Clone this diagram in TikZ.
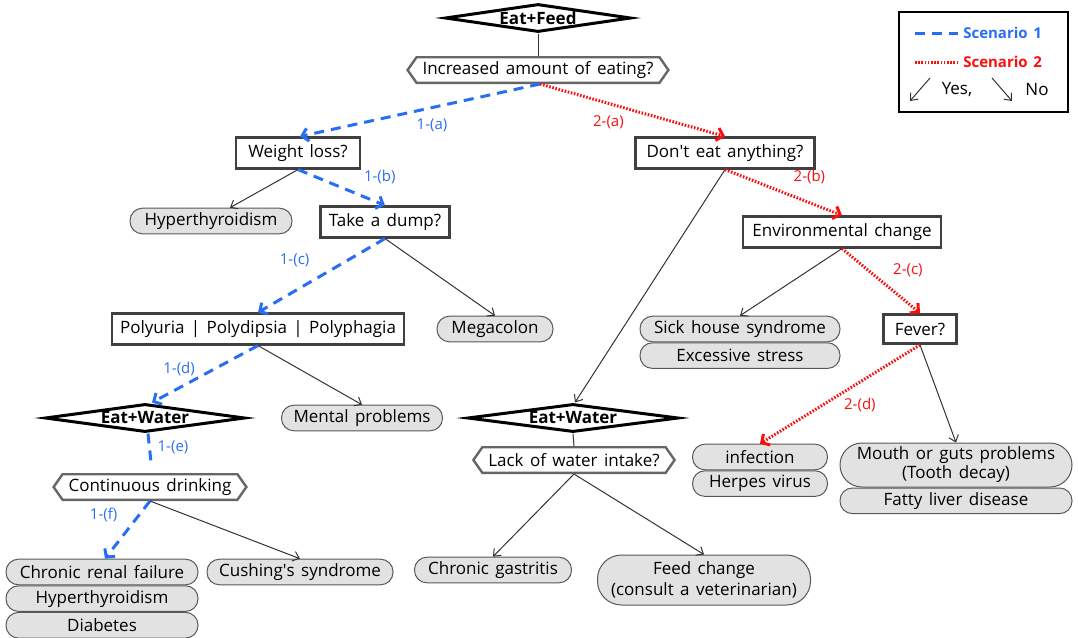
\documentclass[tikz,border=0pt]{standalone}
\usepackage{fontspec}
\setmainfont{Open Sans}[WordSpace=1.45]
\usetikzlibrary{arrows.meta,calc,positioning,shapes.geometric,shapes.symbols}
\definecolor{scenBlue}{RGB}{40,110,245}
\definecolor{scenRed}{RGB}{250,15,15}
\definecolor{pillFill}{RGB}{226,226,226}
\colorlet{boxStroke}{black!75}
\colorlet{hexStroke}{black!60}
\colorlet{wireColor}{black!80}
\newcommand{\PillH}{12.8pt}
\newcommand{\PillR}{6.2pt}
\newcommand{\MainFont}{\fontsize{8.5}{10}\selectfont}
\newcommand{\TagFont}{\fontsize{7.5}{9}\selectfont}

\begin{document}
\begin{tikzpicture}[
  x=0.5pt, y=-0.5pt,
  every node/.style={font=\MainFont},
  gate/.style={diamond,draw=black,line width=1.5pt,fill=white,aspect=5.6,inner sep=0pt,
    minimum height=14pt,font=\bfseries\MainFont},
  hexbox/.style={signal,signal to=west and east,signal pointer angle=110,draw=hexStroke,
    line width=1.2pt,fill=white,minimum height=12.8pt,inner xsep=3pt,inner ysep=1pt},
  qbox/.style={rectangle,draw=boxStroke,line width=1.4pt,fill=white,minimum height=14pt,inner xsep=4pt},
  pill/.style={rectangle,rounded corners=\PillR,draw=black!65,line width=0.5pt,fill=pillFill,
    minimum height=\PillH,inner xsep=3pt,inner ysep=1pt},
  link/.style={draw=wireColor,line width=0.5pt},
  wire/.style={link,-{Straight Barb[length=3pt,width=5pt]}},
  scenA/.style={draw=scenBlue,line width=1.5pt,dash pattern=on 5pt off 3.5pt,
    -{Straight Barb[length=3pt,width=6.5pt]}},
  scenB/.style={draw=scenRed,line width=1.5pt,dash pattern=on 0.8pt off 0.8pt,
    -{Straight Barb[length=3pt,width=6.5pt]}},
  tagA/.style={text=scenBlue,font=\TagFont},
  tagB/.style={text=scenRed,font=\TagFont}
]
\useasboundingbox (0,0) rectangle (1078,638);

% Top
\node[gate,minimum width=93pt] (feed) at (538,18) {Eat+Feed};
\node[hexbox,minimum width=130pt] (eating) at (538,70) {Increased amount of eating?};

% Questions
\node[qbox,minimum width=62pt] (weight) at (298,153) {Weight loss?};
\node[qbox,minimum width=89.5pt] (dont) at (725,153) {Don\textquotesingle t eat anything?};
\node[qbox,minimum width=63pt,minimum height=15pt] (dump) at (385,222) {Take a dump?};
\node[qbox,minimum width=99pt] (env) at (842,232) {Environmental change};
\node[qbox,minimum width=144pt] (poly) at (258,329) {Polyuria | Polydipsia | Polyphagia};
\node[qbox,minimum width=36.5pt,minimum height=14.5pt] (fever) at (920,329) {Fever?};

% Second feeding gates
\node[gate,minimum width=100pt] (waterA) at (145,418) {Eat+Water};
\node[gate,minimum width=105.5pt] (waterB) at (573,418) {Eat+Water};
\node[hexbox,minimum width=94.5pt] (drink) at (150,487) {Continuous drinking};
\node[hexbox,minimum width=94pt] (lack) at (574,460) {Lack of water intake?};

% Results
\node[pill,minimum width=81pt] (hyperA) at (211,221) {Hyperthyroidism};
\node[pill,minimum width=58pt] (mega) at (495,329) {Megacolon};
\node[pill,minimum width=100pt] (sick) at (740,329) {Sick house syndrome};
\node[pill,minimum width=100pt,below=0pt of sick] (stress) {Excessive stress};
\node[pill,minimum width=80.5pt] (mental) at (362,418) {Mental problems};
\node[pill,minimum width=67.5pt] (infect) at (760,457) {infection};
\node[pill,minimum width=67.5pt,below=0pt of infect] (herpes) {Herpes virus};
\node[pill,minimum width=116pt,minimum height=22pt,rounded corners=11pt,align=center,
  inner ysep=0pt,font=\fontsize{8.5}{9.5}\selectfont] (mouth) at (956,465)
  {Mouth or guts problems\\(Tooth decay)};
\node[pill,minimum width=116pt,below=0pt of mouth] (fatty) {Fatty liver disease};
\node[pill,minimum width=96pt] (renal) at (102,572) {Chronic renal failure};
\node[pill,minimum width=96pt,below=0pt of renal] (hyperB) {Hyperthyroidism};
\node[pill,minimum width=96pt,below=0pt of hyperB] (diab) {Diabetes};
\node[pill,minimum width=93pt] (cush) at (300,572) {Cushing\textquotesingle s syndrome};
\node[pill,minimum width=78.5pt] (gastr) at (493,570) {Chronic gastritis};
\node[pill,minimum width=106.5pt,minimum height=25pt,rounded corners=12pt,align=center,
  font=\fontsize{8.5}{10.5}\selectfont] (feedch) at (704,580)
  {Feed change\\(consult a veterinarian)};

% Plain connectors
\draw[link] (feed.south) -- (eating.north);
\draw[link] (waterB.south) -- (lack.north);
\draw[wire] (weight.south) -- ($(hyperA.north)+(19,0)$);
\draw[wire] (dump.south) -- (mega.north);
\draw[wire] (dont.south) -- ($(waterB.north)+(2,0)$);
\draw[wire] (env.south) -- (sick.north);
\draw[wire] (poly.south) -- (mental.north);
\draw[wire] (lack.south) -- (gastr.north);
\draw[wire] (lack.south) -- (feedch.north);
\draw[wire] (fever.south) -- (mouth.north);
\draw[wire] (drink.south) -- (cush.north);

% Scenario 1
\draw[scenA] ($(eating.south)+(2,0)$) -- node[tagA,pos=0.45,below=1.5pt] {1-(a)} ($(weight.north)+(2,0)$);
\draw[scenA] (weight.south) -- node[tagA,pos=0.55,above right=-1.5pt and 5pt] {1-(b)} (dump.north);
\draw[scenA] (dump.south) -- node[tagA,above left=0pt and 2pt] {1-(c)} (poly.north);
\draw[scenA] (poly.south) -- node[tagA,above left=-5pt and 1pt] {1-(d)} ($(waterA.north)+(7,0)$);
\draw[scenA,-] ($(waterA.south)+(3,0)$) -- node[tagA,right=0pt] {1-(e)} ($(drink.north)+(1,-11)$);
\draw[scenA] (drink.south) -- node[tagA,above left=0pt and 1pt] {1-(f)} ($(renal.north)+(3,0)$);

% Scenario 2
\draw[scenB] ($(eating.south)+(2,0)$) -- node[tagB,pos=0.37,below=2pt] {2-(a)} (dont.north);
\draw[scenB] (dont.south) -- node[tagB,above right=0pt and 1pt] {2-(b)} (env.north);
\draw[scenB] (env.south) -- node[tagB,above right=-2pt and 2pt] {2-(c)} (fever.north);
\draw[scenB] (fever.south) -- node[tagB,below right=-2pt and -2pt] {2-(d)} (infect.north);

% Legend
\node[draw=black,line width=1pt,minimum width=84.5pt,minimum height=50pt] (legend) at (983.5,62) {};
\coordinate (la1) at (915,33);  \coordinate (la2) at (958,33);
\coordinate (lb1) at (915,62);  \coordinate (lb2) at (958,62);
\draw[scenA,-] (la1) -- (la2);
\draw[scenB,-] (lb1) -- (lb2);
\node[text=scenBlue,font=\bfseries\fontsize{7.5}{9}\selectfont,anchor=east] (legA) at (1049,33) {Scenario 1};
\node[text=scenRed,font=\bfseries\fontsize{7.5}{9}\selectfont,anchor=east] (legB) at (1049,62) {Scenario 2};
\coordinate (ly1) at (930,78);  \coordinate (ly2) at (910,101);
\coordinate (ln1) at (992,78);  \coordinate (ln2) at (1012,101);
\draw[wire] (ly1) -- (ly2);
\draw[wire] (ln1) -- (ln2);
\node (yes) at (957,90) {Yes,};
\node (no) at (1037,90) {No};

\end{tikzpicture}
\end{document}
